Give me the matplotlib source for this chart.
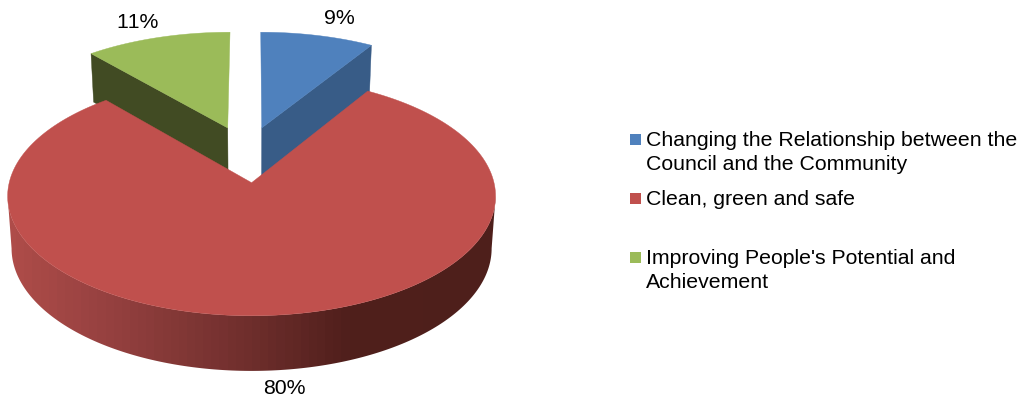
import numpy as np
import matplotlib
matplotlib.use('Agg')
import matplotlib.pyplot as plt
from matplotlib.colors import LinearSegmentedColormap
from matplotlib.patches import Polygon, Rectangle

plt.rcParams['font.family'] = ['Liberation Sans', 'DejaVu Sans']
plt.rcParams['text.kerning_factor'] = 6

# Share of each slice, clockwise from 12 o'clock (labels round these)
categories = ['Changing the Relationship between the\nCouncil and the Community',
              'Clean, green and safe',
              "Improving People's Potential and\nAchievement"]
values = [8.8, 79.9, 11.3]

top_colors = ['#4F81BD', '#C0504D', '#9BBB59']
side_colors = ['#385C87', None, '#414B23']

# where each slice's apex sits on the pie plane (radius = 1)
apex_u = [0.044, 0.0, -0.104]
apex_v = [0.49, 0.0, 0.49]

# perspective projection to pixels
cx = 251.6
persp = 0.113
top_plane = (242.4, 118.0, 182.7)
bottom_plane = (238.5, 121.0, 234.5)


def project(u, v, plane):
    a, b, y0 = plane
    s = 1.0 / (1.0 + persp * v)
    return cx + a * u * s, y0 - b * v * s


def slice_outline(i, start, end, plane):
    t = np.radians(np.linspace(start, end, 200))
    u = np.r_[apex_u[i], apex_u[i] + np.sin(t)]
    v = np.r_[apex_v[i], apex_v[i] + np.cos(t)]
    x, y = project(u, v, plane)
    return np.column_stack([x, y])


fig = plt.figure(figsize=(10.2, 4.01), dpi=100)
ax = fig.add_axes([0, 0, 1, 1])
ax.axis('off')

edges = np.r_[0, np.cumsum(values)] * 3.6 / (sum(values) / 100)

# back slices first, the big one goes over them
for i, start, end in [(2, edges[2], edges[3]), (0, edges[0], edges[1])]:
    cut = start if i == 2 else end
    t = np.radians(cut)
    corner = (apex_u[i] + np.sin(t), apex_v[i] + np.cos(t))
    apex = (apex_u[i], apex_v[i])
    face = [project(*apex, top_plane), project(*corner, top_plane),
            project(*corner, bottom_plane), project(*apex, bottom_plane)]
    ax.fill(*zip(*face), color=side_colors[i], lw=0.3)
    ax.fill(*slice_outline(i, start, end, top_plane).T, color=top_colors[i], lw=0.3)

# rim of the red slice, shaded left to right
# runs between the widest points of the projected circle, which sit just below v=0
shade = LinearSegmentedColormap.from_list('rim', [(0.0, '#AE4C49'), (0.2, '#964140'),
                                                  (0.5, '#6E2E2C'), (0.7, '#501F1C'),
                                                  (1.0, '#4E1F1B')])
widest = np.degrees(np.arccos(-persp))
t = np.radians(np.linspace(widest, 360 - widest, 180))
xt, yt = project(np.sin(t), np.cos(t), top_plane)
xb, yb = project(np.sin(t), np.cos(t), bottom_plane)
rim = Polygon(np.column_stack([np.r_[xt, xb[::-1]], np.r_[yt, yb[::-1]]]), transform=ax.transData,
              fc='none', ec='none')
ax.add_patch(rim)
img = ax.imshow(np.linspace(0, 1, 60)[None, :], cmap=shade, extent=(8, 496, 380, 190), aspect='auto',
                interpolation='nearest')
img.set_clip_path(rim)

ax.fill(*slice_outline(1, edges[1], edges[2], top_plane).T, color=top_colors[1], lw=0.3, zorder=3)

# percentage labels
label_xy = [(339, 18), (284, 388), (138, 22)]
for v, (lx, ly) in zip(values, label_xy):
    ax.text(lx, ly, f'{v:.0f}%', fontsize=15.3, ha='center', va='center', color='black')

# legend
legend_baselines = [[146, 170], [205], [264, 288]]
for name, color, ys in zip(categories, top_colors, legend_baselines):
    ax.add_patch(Rectangle((630, ys[0] - 12), 11, 11, color=color, lw=0))
    for line, y in zip(name.split('\n'), ys):
        ax.text(646, y, line, fontsize=15.3, ha='left', va='baseline', color='black')

ax.set_xlim(0, 1020)
ax.set_ylim(401, 0)
fig.savefig('out.png', dpi=100)
